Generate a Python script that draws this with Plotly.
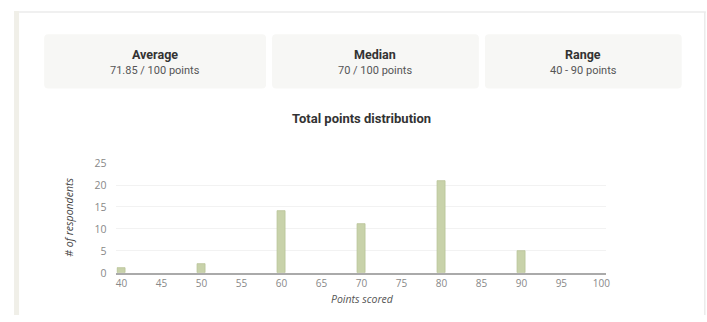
import plotly.graph_objects as go

# Score distribution data
points_scored = [40, 50, 60, 70, 80, 90]
respondents = [1, 2, 14, 11, 21, 5]

x_ticks = [40, 45, 50, 55, 60, 65, 70, 75, 80, 85, 90, 95, 100]
y_ticks = [0, 5, 10, 15, 20, 25]

# Summary cards
card_titles = ["Average", "Median", "Range"]
card_values = ["71.85 / 100 points", "70 / 100 points", "40 - 90 points"]

W, H = 707, 322

# Viewport calibration: on-screen pixel -> figure pixel
SX, OX = 0.989, 2.0
SY, OY = 0.950, 8.0


def px(x):
    return ((x - OX) / SX) / W


def py(y):
    return 1 - ((y - OY) / SY) / H


fig = go.Figure()
fig.add_trace(go.Bar(
    x=points_scored,
    y=respondents,
    width=1.0,
    marker=dict(color="#c8d2aa", line=dict(color="#b9c398", width=0.8)),
    hoverinfo="x+y",
))

shapes = []
annotations = []

# Page frame: left rail, top and right borders
shapes.append(dict(type="rect", xref="paper", yref="paper",
                   x0=px(15), x1=px(20), y0=0, y1=py(12),
                   fillcolor="#f0efe8", line=dict(width=0), layer="below"))
shapes.append(dict(type="line", xref="paper", yref="paper",
                   x0=px(20), x1=px(704), y0=py(13), y1=py(13),
                   line=dict(color="#ebebeb", width=1.5)))
shapes.append(dict(type="line", xref="paper", yref="paper",
                   x0=px(703), x1=px(703), y0=py(13), y1=0,
                   line=dict(color="#ebebeb", width=1.5)))

# Summary cards
card_spans = [(45, 266), (272, 478), (484, 680)]
for (x0, x1), t, v in zip(card_spans, card_titles, card_values):
    r = 4
    y0, y1 = 35, 89
    path = (f"M {px(x0 + r)},{py(y0)} L {px(x1 - r)},{py(y0)} "
            f"Q {px(x1)},{py(y0)} {px(x1)},{py(y0 + r)} "
            f"L {px(x1)},{py(y1 - r)} Q {px(x1)},{py(y1)} {px(x1 - r)},{py(y1)} "
            f"L {px(x0 + r)},{py(y1)} Q {px(x0)},{py(y1)} {px(x0)},{py(y1 - r)} "
            f"L {px(x0)},{py(y0 + r)} Q {px(x0)},{py(y0)} {px(x0 + r)},{py(y0)} Z")
    shapes.append(dict(type="path", xref="paper", yref="paper", path=path,
                       fillcolor="#f7f7f5", line=dict(width=0), layer="below"))
    cx = px((x0 + x1) / 2)
    annotations.append(dict(x=cx, y=py(55), xref="paper", yref="paper",
                            xanchor="center", yanchor="middle",
                            text=f"<b>{t}</b>", showarrow=False,
                            font=dict(family="Roboto", size=12.5, color="#333333")))
    annotations.append(dict(x=cx, y=py(71), xref="paper", yref="paper",
                            xanchor="center", yanchor="middle",
                            text=v, showarrow=False,
                            font=dict(family="Roboto", size=11, color="#555555")))

# Chart title and axis titles
annotations.append(dict(x=px(361), y=py(119), xref="paper", yref="paper",
                        xanchor="center", yanchor="middle",
                        text="<b>Total points distribution</b>", showarrow=False,
                        font=dict(family="Roboto", size=13, color="#333333")))
annotations.append(dict(x=px(362), y=py(298), xref="paper", yref="paper",
                        xanchor="center", yanchor="middle",
                        text="<i>Points scored</i>", showarrow=False,
                        font=dict(family="Open Sans", size=10.5, color="#555555")))
annotations.append(dict(x=px(70), y=py(217), xref="paper", yref="paper",
                        xanchor="center", yanchor="middle",
                        text="<i># of respondents</i>", showarrow=False, textangle=-90,
                        font=dict(family="Open Sans", size=10.5, color="#444444")))

fig.update_layout(
    width=W, height=H,
    margin=dict(l=0, r=0, t=0, b=0),
    paper_bgcolor="white",
    plot_bgcolor="white",
    showlegend=False,
    bargap=0,
    shapes=shapes,
    annotations=annotations,
    xaxis=dict(
        domain=[px(117), px(605)],
        range=[39.37, 100.63],
        tickvals=x_ticks,
        ticktext=[str(v) for v in x_ticks],
        showgrid=False,
        zeroline=False,
        showline=True,
        linecolor="#aaaaaa",
        linewidth=2,
        ticks="",
        ticklabelstandoff=0,
        tickfont=dict(family="Open Sans", size=10, color="#888888"),
        fixedrange=True,
    ),
    yaxis=dict(
        domain=[py(272), py(163)],
        range=[0, 25],
        tickvals=y_ticks,
        showgrid=True,
        gridcolor="#f2f2f2",
        gridwidth=1,
        zeroline=False,
        showline=False,
        ticks="",
        ticklabelstandoff=9,
        tickfont=dict(family="Open Sans", size=10.5, color="#888888"),
        fixedrange=True,
    ),
)

fig.write_html("out.html", config={"displayModeBar": False})
